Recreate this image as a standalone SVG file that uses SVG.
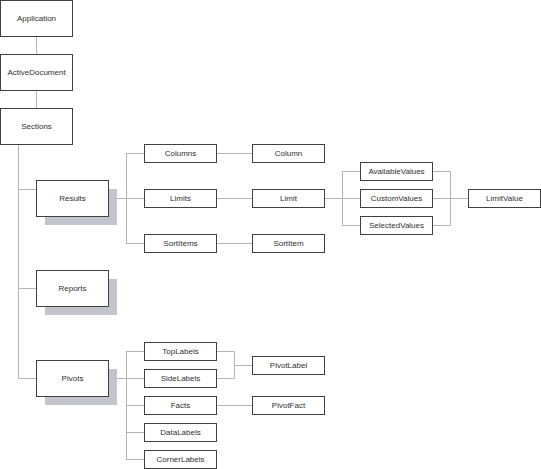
<svg xmlns="http://www.w3.org/2000/svg" width="541" height="469" viewBox="0 0 541 469">
<style>
.b{fill:#fff;stroke:#404040;stroke-width:1}
.s{fill:#c3c5cc}
.c{fill:none;stroke:#b4b4b4;stroke-width:1}
text{font-family:"Liberation Sans",Arial,sans-serif;font-size:8px;fill:#303030;text-anchor:middle;dominant-baseline:central}
</style>
<rect width="541" height="469" fill="#fff"/>
<g id="connectors">
<path class="c" d="M36.5,36 V54 M36.5,90 V108 M18.5,144 V378.5 M18,189.5 H36 M18,288.5 H36 M18,378.5 H36"/>
<path class="c" d="M108,198.5 H144 M126.5,153.5 V243.5 M126,153.5 H144 M126,243.5 H144 M216,153.5 H252 M216,198.5 H252 M216,243.5 H252"/>
<path class="c" d="M324,198.5 H360 M342.5,171.5 V225.5 M342,171.5 H360 M342,225.5 H360 M432,171.5 H450.5 M432,225.5 H450.5 M450.5,171.5 V225.5 M432,198.5 H468"/>
<path class="c" d="M108,378.5 H144 M126.5,351.5 V459.5 M126,351.5 H144 M126,405.5 H144 M126,432.5 H144 M126,459.5 H144 M216,351.5 H234.5 M216,378.5 H234.5 M234.5,351.5 V378.5 M234.5,365.5 H252 M216,405.5 H252"/>
</g>
<g id="Application"><rect class="b" x="0.5" y="0.5" width="72" height="36"/><text x="36.5" y="18.5">Application</text></g>
<g id="ActiveDocument"><rect class="b" x="0.5" y="54.5" width="72" height="36"/><text x="36.5" y="72.5">ActiveDocument</text></g>
<g id="Sections"><rect class="b" x="0.5" y="108.5" width="72" height="36"/><text x="36.5" y="126.5">Sections</text></g>
<g id="Results"><rect class="s" x="45" y="189" width="72" height="36"/><rect class="b" x="36.5" y="180.5" width="72" height="36"/><text x="72.5" y="198.5">Results</text></g>
<g id="Reports"><rect class="s" x="45" y="279" width="72" height="36"/><rect class="b" x="36.5" y="270.5" width="72" height="36"/><text x="72.5" y="288.5">Reports</text></g>
<g id="Pivots"><rect class="s" x="45" y="369" width="72" height="36"/><rect class="b" x="36.5" y="360.5" width="72" height="36"/><text x="72.5" y="378.5">Pivots</text></g>
<g id="Columns"><rect class="b" x="144.5" y="144.5" width="72" height="18"/><text x="180.5" y="153.5">Columns</text></g>
<g id="Column"><rect class="b" x="252.5" y="144.5" width="72" height="18"/><text x="288.5" y="153.5">Column</text></g>
<g id="Limits"><rect class="b" x="144.5" y="189.5" width="72" height="18"/><text x="180.5" y="198.5">Limits</text></g>
<g id="Limit"><rect class="b" x="252.5" y="189.5" width="72" height="18"/><text x="288.5" y="198.5">Limit</text></g>
<g id="SortItems"><rect class="b" x="144.5" y="234.5" width="72" height="18"/><text x="180.5" y="243.5">SortItems</text></g>
<g id="SortItem"><rect class="b" x="252.5" y="234.5" width="72" height="18"/><text x="288.5" y="243.5">SortItem</text></g>
<g id="AvailableValues"><rect class="b" x="360.5" y="162.5" width="72" height="18"/><text x="396.5" y="171.5">AvailableValues</text></g>
<g id="CustomValues"><rect class="b" x="360.5" y="189.5" width="72" height="18"/><text x="396.5" y="198.5">CustomValues</text></g>
<g id="SelectedValues"><rect class="b" x="360.5" y="216.5" width="72" height="18"/><text x="396.5" y="225.5">SelectedValues</text></g>
<g id="LimitValue"><rect class="b" x="468.5" y="189.5" width="72" height="18"/><text x="504.5" y="198.5">LimitValue</text></g>
<g id="TopLabels"><rect class="b" x="144.5" y="342.5" width="72" height="18"/><text x="180.5" y="351.5">TopLabels</text></g>
<g id="SideLabels"><rect class="b" x="144.5" y="369.5" width="72" height="18"/><text x="180.5" y="378.5">SideLabels</text></g>
<g id="Facts"><rect class="b" x="144.5" y="396.5" width="72" height="18"/><text x="180.5" y="405.5">Facts</text></g>
<g id="DataLabels"><rect class="b" x="144.5" y="423.5" width="72" height="18"/><text x="180.5" y="432.5">DataLabels</text></g>
<g id="CornerLabels"><rect class="b" x="144.5" y="450.5" width="72" height="18"/><text x="180.5" y="459.5">CornerLabels</text></g>
<g id="PivotLabel"><rect class="b" x="252.5" y="356.5" width="72" height="18"/><text x="288.5" y="365.5">PivotLabel</text></g>
<g id="PivotFact"><rect class="b" x="252.5" y="396.5" width="72" height="18"/><text x="288.5" y="405.5">PivotFact</text></g>
</svg>
